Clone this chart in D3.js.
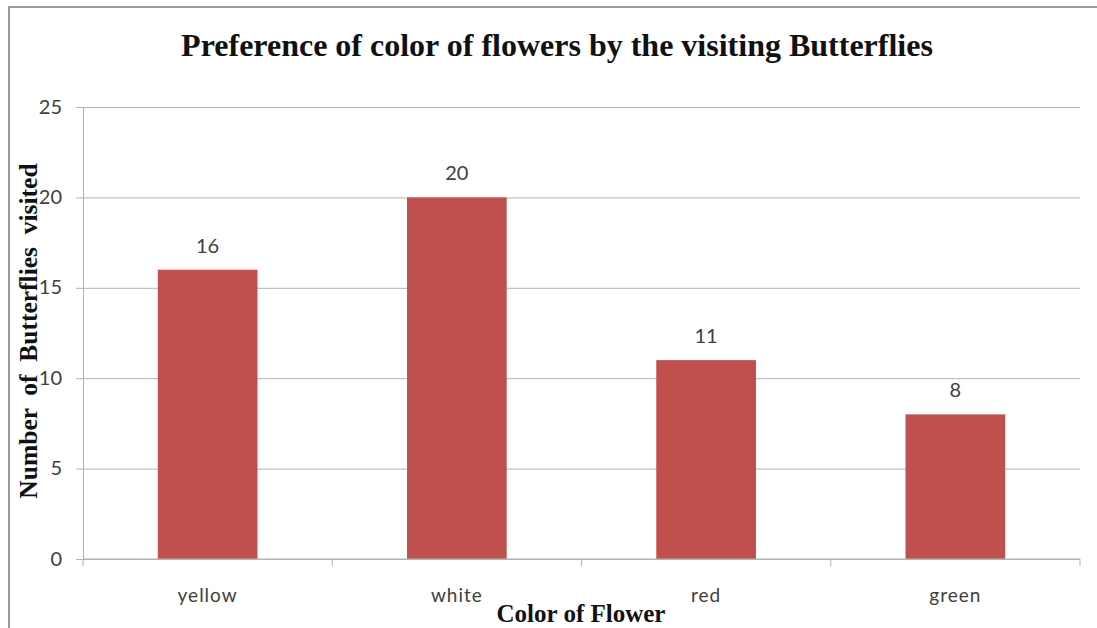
<!DOCTYPE html>
<html>
<head>
<meta charset="utf-8">
<script src="https://cdnjs.cloudflare.com/ajax/libs/d3/7.8.5/d3.min.js"></script>
<style>
  body { margin: 0; background: #fff; }
  .tick text { font-family: Lato, 'Open Sans', sans-serif; fill: #404040; }
</style>
</head>
<body>
<svg id="chart" width="1097" height="628"></svg>
<script>
var categories = [ 'yellow', 'white', 'red', 'green' ],
  visits = [ 16, 20, 11, 8 ],
  yTicks = [ 0, 5, 10, 15, 20, 25 ];

var svg = d3.select( '#chart' ),
  margin = { top: 107, right: 17, bottom: 69, left: 83 },
  width = +svg.attr( 'width' ),
  height = +svg.attr( 'height' );

// outer frame
svg.append( 'path' )
  .attr( 'd', 'M9,628 V7 H1097' )
  .style( 'fill', 'none' )
  .style( 'stroke', '#9a9a9a' )
  .style( 'stroke-width', 2 );

var x = d3.scaleBand()
  .domain( categories )
  .range( [ margin.left, width - margin.right ] )
  .paddingInner( 0.6 )
  .paddingOuter( 0.3 );

var xb = d3.scaleBand()
  .domain( categories )
  .range( [ margin.left, width - margin.right ] );

var y = d3.scaleLinear()
  .domain( [ 0, 25 ] )
  .range( [ height - margin.bottom, margin.top ] );

// gridlines
svg.append( 'g' )
  .attr( 'transform', 'translate(' + margin.left + ',0)' )
  .call( d3.axisLeft( y ).tickValues( yTicks ).tickSize( -( width - margin.left - margin.right ) ).tickFormat( '' ) )
  .call( g => g.select( '.domain' ).remove() )
  .call( g => g.selectAll( 'line' ).style( 'stroke', '#b3b3b3' ) );

// y axis
svg.append( 'g' )
  .attr( 'class', 'y-axis' )
  .attr( 'transform', 'translate(' + margin.left + ',0)' )
  .call( d3.axisLeft( y ).tickValues( yTicks ).tickSize( 7 ).tickPadding( 14 ).tickSizeOuter( 0 ) )
  .call( g => g.select( '.domain' ).style( 'stroke', '#b3b3b3' ) )
  .call( g => g.selectAll( 'line' ).style( 'stroke', '#b3b3b3' ) )
  .call( g => g.selectAll( 'text' ).style( 'font-size', '20px' ).attr( 'dy', '0.3em' ) );

// bars
svg.selectAll( '.bar' )
  .data( categories )
  .enter().append( 'rect' )
    .attr( 'class', 'bar' )
    .attr( 'x', d => x( d ) )
    .attr( 'y', ( d, i ) => y( visits[ i ] ) )
    .attr( 'width', x.bandwidth() )
    .attr( 'height', ( d, i ) => y( 0 ) - y( visits[ i ] ) )
    .style( 'fill', '#c0504d' );

// x axis
var xAxis = svg.append( 'g' )
  .attr( 'class', 'x-axis' )
  .attr( 'transform', 'translate(0,' + y( 0 ) + ')' );

xAxis.append( 'line' )
  .attr( 'x1', margin.left )
  .attr( 'x2', width - margin.right )
  .style( 'stroke', '#b3b3b3' );

xAxis.selectAll( '.sep' )
  .data( categories.concat( [ null ] ) )
  .enter().append( 'line' )
    .attr( 'x1', ( d, i ) => i < categories.length ? xb( d ) : xb.range()[ 1 ] )
    .attr( 'x2', ( d, i ) => i < categories.length ? xb( d ) : xb.range()[ 1 ] )
    .attr( 'y1', 0 )
    .attr( 'y2', 7 )
    .style( 'stroke', '#b3b3b3' );

xAxis.selectAll( '.cat' )
  .data( categories )
  .enter().append( 'text' )
    .attr( 'x', d => xb( d ) + xb.bandwidth() / 2 )
    .attr( 'y', 43 )
    .attr( 'text-anchor', 'middle' )
    .style( 'font-family', 'Lato, sans-serif' )
    .style( 'font-size', '19px' )
    .style( 'letter-spacing', '1px' )
    .style( 'fill', '#404040' )
    .text( d => d );

// value labels
svg.selectAll( '.val' )
  .data( categories )
  .enter().append( 'text' )
    .attr( 'x', d => x( d ) + x.bandwidth() / 2 )
    .attr( 'y', ( d, i ) => y( visits[ i ] ) - 17 )
    .attr( 'text-anchor', 'middle' )
    .style( 'font-family', 'Lato, sans-serif' )
    .style( 'font-size', '20px' )
    .style( 'fill', '#404040' )
    .text( ( d, i ) => visits[ i ] );

// titles
svg.append( 'text' )
  .attr( 'x', 557 )
  .attr( 'y', 56 )
  .attr( 'text-anchor', 'middle' )
  .style( 'font-family', "'Liberation Serif', serif" )
  .style( 'font-weight', 'bold' )
  .style( 'font-size', '32px' )
  .style( 'fill', '#111' )
  .text( 'Preference of color of flowers by the visiting Butterflies' );

svg.append( 'text' )
  .attr( 'transform', 'translate(37,331) rotate(-90)' )
  .attr( 'text-anchor', 'middle' )
  .style( 'font-family', "'Liberation Serif', serif" )
  .style( 'font-weight', 'bold' )
  .style( 'font-size', '25.5px' )
  .style( 'white-space', 'pre' )
  .style( 'fill', '#111' )
  .text( 'Number  of  Butterflies  visited' );

svg.append( 'text' )
  .attr( 'x', 581 )
  .attr( 'y', 622 )
  .attr( 'text-anchor', 'middle' )
  .style( 'font-family', "'Liberation Serif', serif" )
  .style( 'font-weight', 'bold' )
  .style( 'font-size', '25px' )
  .style( 'fill', '#111' )
  .text( 'Color of Flower' );
</script>
</body>
</html>
